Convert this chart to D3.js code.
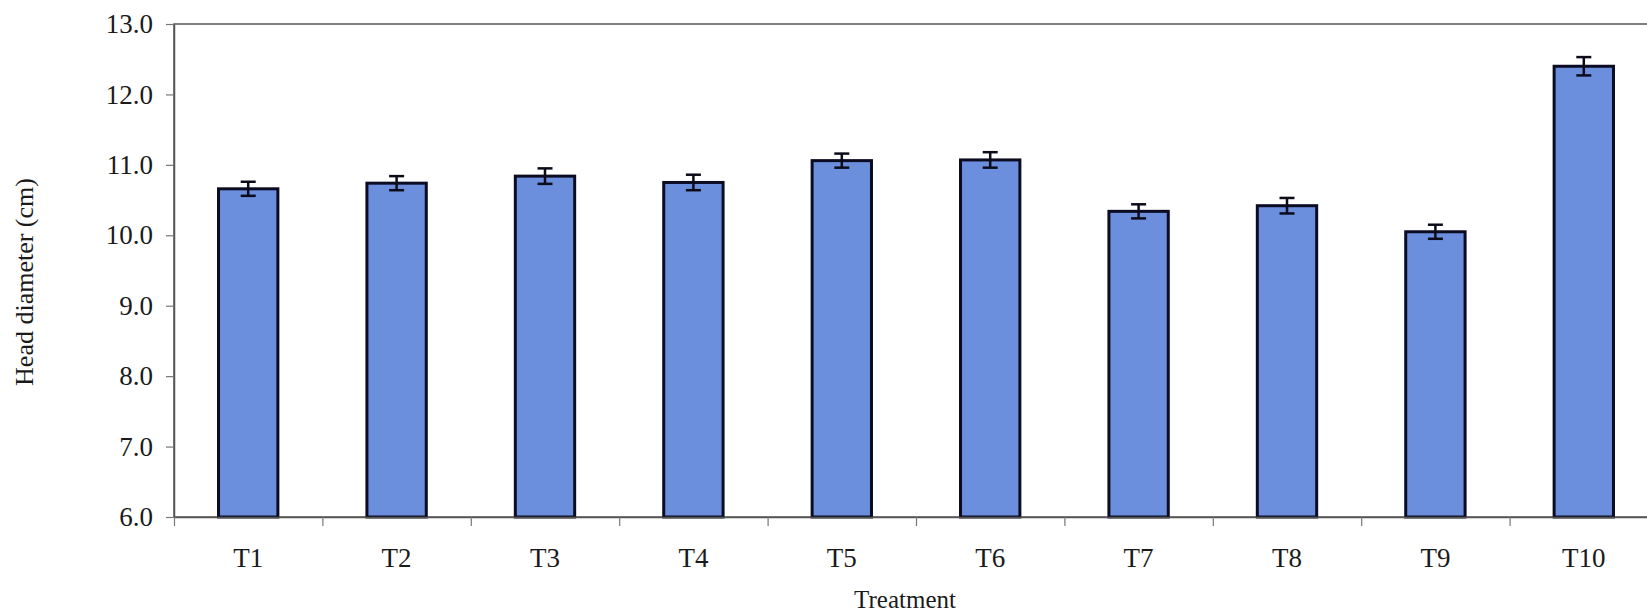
<!DOCTYPE html>
<html>
<head>
<meta charset="utf-8">
<script src="https://cdn.jsdelivr.net/npm/d3@7"></script>
<style>
  body { margin: 0; background: #fff; }
  svg text { font-family: "Liberation Serif", "Times New Roman", serif; fill: #1a1a1a; }
</style>
</head>
<body>
<div id="chart"></div>
<script>
// data
const treatments = ["T1", "T2", "T3", "T4", "T5", "T6", "T7", "T8", "T9", "T10"];
const headDiameter = [10.66, 10.74, 10.84, 10.75, 11.06, 11.07, 10.34, 10.42, 10.05, 12.40];
const stdErr = [0.10, 0.10, 0.11, 0.11, 0.10, 0.11, 0.10, 0.11, 0.10, 0.13];
const yTicks = [6, 7, 8, 9, 10, 11, 12, 13];

// margins
var margin = {top: 24, right: -11, bottom: 99, left: 174},
    W = 1647, H = 616,
    width = W - margin.left - margin.right,
    height = H - margin.top - margin.bottom;

let svg = d3.select("#chart").append("svg")
    .attr("width", W)
    .attr("height", H);

let g = svg.append("g")
    .attr("transform", "translate(" + margin.left + "," + margin.top + ")");

// scales
let xScale = d3.scaleBand()
    .domain(treatments)
    .range([0, width])
    .paddingInner(0.6)
    .paddingOuter(0.3);

// slot boundaries for the little ticks between categories
let slotScale = d3.scaleLinear()
    .domain([0, treatments.length])
    .range([0, width]);

let yScale = d3.scaleLinear()
    .domain([6, 13])
    .range([height, 0]);

// plot frame (top + right)
g.append("rect")
    .attr("x", 0).attr("y", 0)
    .attr("width", width).attr("height", height)
    .attr("fill", "none")
    .attr("stroke", "#555")
    .attr("stroke-width", 1.5);

// bars
g.selectAll(".bar")
    .data(treatments)
    .enter()
    .append("rect")
    .attr("class", "bar")
    .attr("x", d => xScale(d))
    .attr("y", (d, i) => yScale(headDiameter[i]))
    .attr("width", xScale.bandwidth())
    .attr("height", (d, i) => yScale(6) - yScale(headDiameter[i]))
    .attr("fill", "#6b8fdd")
    .attr("stroke", "#0b0b22")
    .attr("stroke-width", 3);

// error bars
let capW = 7.5;
let err = g.selectAll(".err")
    .data(treatments)
    .enter()
    .append("g")
    .attr("class", "err")
    .attr("stroke", "#0b0b1a")
    .attr("stroke-width", 2.5);

err.append("line")
    .attr("x1", d => xScale(d) + xScale.bandwidth() / 2)
    .attr("x2", d => xScale(d) + xScale.bandwidth() / 2)
    .attr("y1", (d, i) => yScale(headDiameter[i] + stdErr[i]))
    .attr("y2", (d, i) => yScale(headDiameter[i] - stdErr[i]));

err.append("line")
    .attr("x1", d => xScale(d) + xScale.bandwidth() / 2 - capW)
    .attr("x2", d => xScale(d) + xScale.bandwidth() / 2 + capW)
    .attr("y1", (d, i) => yScale(headDiameter[i] + stdErr[i]))
    .attr("y2", (d, i) => yScale(headDiameter[i] + stdErr[i]));

err.append("line")
    .attr("x1", d => xScale(d) + xScale.bandwidth() / 2 - capW)
    .attr("x2", d => xScale(d) + xScale.bandwidth() / 2 + capW)
    .attr("y1", (d, i) => yScale(headDiameter[i] - stdErr[i]))
    .attr("y2", (d, i) => yScale(headDiameter[i] - stdErr[i]));

// y axis
let yAxis = g.append("g")
    .attr("class", "y-axis")
    .call(d3.axisLeft(yScale)
        .tickValues(yTicks)
        .tickFormat(d3.format(".1f"))
        .tickSize(8)
        .tickSizeOuter(0)
        .tickPadding(13));
yAxis.select(".domain").attr("stroke", "#555").attr("stroke-width", 1.5);
yAxis.selectAll(".tick line").attr("stroke", "#777").attr("stroke-width", 1.2);
yAxis.selectAll(".tick text")
    .style("font-size", "27px")
    .attr("fill", "#1a1a1a");

// x axis: boundary ticks
let xTickAxis = g.append("g")
    .attr("transform", "translate(0," + height + ")")
    .call(d3.axisBottom(slotScale)
        .tickValues(d3.range(0, treatments.length + 1))
        .tickFormat("")
        .tickSize(9)
        .tickSizeOuter(0));
xTickAxis.select(".domain").attr("stroke", "#555").attr("stroke-width", 1.5);
xTickAxis.selectAll(".tick line").attr("stroke", "#777").attr("stroke-width", 1.2);

// x axis: category labels
let xAxis = g.append("g")
    .attr("transform", "translate(0," + height + ")")
    .call(d3.axisBottom(xScale).tickSize(0));
xAxis.select(".domain").remove();
xAxis.selectAll(".tick text")
    .attr("y", 50)
    .attr("dy", 0)
    .style("font-size", "27px")
    .attr("fill", "#1a1a1a");

// axis titles
svg.append("text")
    .attr("transform", "translate(33,282) rotate(-90)")
    .attr("text-anchor", "middle")
    .style("font-size", "26px")
    .text("Head diameter (cm)");

svg.append("text")
    .attr("x", 905)
    .attr("y", 608)
    .attr("text-anchor", "middle")
    .style("font-size", "25px")
    .text("Treatment");
</script>
</body>
</html>
